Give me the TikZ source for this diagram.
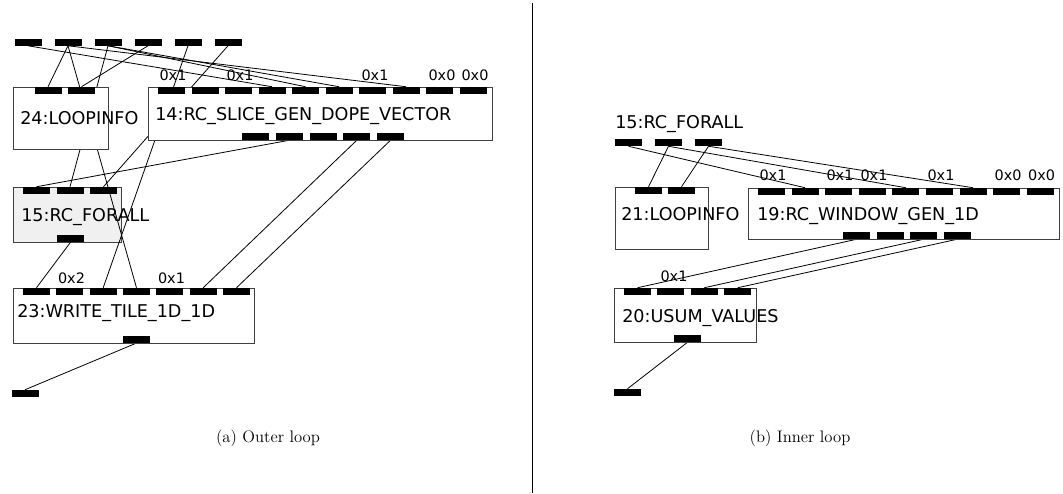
\documentclass[tikz,border=0pt]{standalone}
\usepackage{fontspec}
\newfontfamily\dvsans{DejaVu Sans}

\pgfdeclarelayer{under}
\pgfdeclarelayer{wires}
\pgfsetlayers{under,wires,main}

\tikzset{
	opbox/.style={draw=black!75, fill=white, line width=0.5pt, inner sep=0pt},
	loopbox/.style={opbox, fill=black!6},
	port/.style={fill=black, inner sep=0pt, minimum width=20.25pt, minimum height=5.25pt},
	oplabel/.style={anchor=base west, inner sep=0pt, font=\dvsans\fontsize{13.2}{15}\selectfont},
	constlabel/.style={anchor=base, inner sep=0pt, font=\dvsans\fontsize{10.8}{12}\selectfont},
	caption/.style={anchor=base, inner sep=0pt, font=\fontsize{12.5}{15}\selectfont},
	wire/.style={line width=0.6pt}
}

\begin{document}
\begin{tikzpicture}[x=0.75pt,y=0.75pt,yscale=-1,xscale=1]
	\useasboundingbox (0,0) rectangle (1063,493);

	%%%%%%%%%% (a) outer loop
	% Input ports
	\node [port] (ta1) at (28,42) {};
	\node [port] (ta2) at (68,42) {};
	\node [port] (ta3) at (108,42) {};
	\node [port] (ta4) at (148,42) {};
	\node [port] (ta5) at (188,42) {};
	\node [port] (ta6) at (228,42) {};

	% Box 24
	\node [opbox, minimum width=71.25pt, minimum height=46.5pt] (n24) at (60.5,118) {};
	\node [port] (n24i1) at (48,90.5) {};
	\node [port] (n24i2) at (81.5,90.5) {};
	\node [oplabel] (t24) at (20,124) {24:LOOPINFO};

	% Box 14
	\node [opbox, minimum width=258pt, minimum height=39.75pt] (n14) at (320,113.5) {};
	\node [port] (n14i1) at (171.5,90.5) {};
	\node [port] (n14i2) at (205,90.5) {};
	\node [port] (n14i3) at (238.5,90.5) {};
	\node [port] (n14i4) at (272,90.5) {};
	\node [port] (n14i5) at (305.5,90.5) {};
	\node [port] (n14i6) at (339,90.5) {};
	\node [port] (n14i7) at (372.5,90.5) {};
	\node [port] (n14i8) at (406,90.5) {};
	\node [port] (n14i9) at (439.5,90.5) {};
	\node [port] (n14i10) at (473,90.5) {};
	\node [port] (n14o1) at (255.5,136.5) {};
	\node [port] (n14o2) at (289.25,136.5) {};
	\node [port] (n14o3) at (323,136.5) {};
	\node [port] (n14o4) at (356.75,136.5) {};
	\node [port] (n14o5) at (390.5,136.5) {};
	\node [oplabel] (t14) at (155,120) {14:RC\_SLICE\_GEN\_DOPE\_VECTOR};
	\node [constlabel] (c14a) at (173,80) {0x1};
	\node [constlabel] (c14b) at (240,80) {0x1};
	\node [constlabel] (c14c) at (375,80) {0x1};
	\node [constlabel] (c14d) at (442,80) {0x0};
	\node [constlabel] (c14e) at (475,80) {0x0};

	% Box 15
	\begin{pgfonlayer}{under}
	\node [loopbox, minimum width=81pt, minimum height=41.25pt] (n15) at (67,214.5) {};
	\end{pgfonlayer}
	\node [port] (n15i1) at (36.5,190.5) {};
	\node [port] (n15i2) at (70,190.5) {};
	\node [port] (n15i3) at (103.5,190.5) {};
	\node [port] (n15o) at (70.5,238.5) {};
	\node [oplabel] (t15) at (21,221) {15:RC\_FORALL};

	% Box 23
	\node [opbox, minimum width=180.75pt, minimum height=41.25pt] (n23) at (133.5,315.5) {};
	\node [port] (n23i1) at (36.5,291.5) {};
	\node [port] (n23i2) at (69.8,291.5) {};
	\node [port] (n23i3) at (103.2,291.5) {};
	\node [port] (n23i4) at (136.5,291.5) {};
	\node [port] (n23i5) at (169.8,291.5) {};
	\node [port] (n23i6) at (203.2,291.5) {};
	\node [port] (n23i7) at (236.5,291.5) {};
	\node [port] (n23o) at (136,339.5) {};
	\node [oplabel] (t23) at (17,317) {23:WRITE\_TILE\_1D\_1D};
	\node [constlabel] (c23a) at (71.5,283) {0x2};
	\node [constlabel] (c23b) at (171.5,283) {0x1};

	% Output port
	\node [port] (outa) at (25,393.5) {};

	% Connections
	\begin{pgfonlayer}{wires}
	\draw [wire] (ta1.south) -- (n14i4.north);
	\draw [wire] (ta2.south) -- (n24i1.north);
	\draw [wire] (ta2.south) -- (n23i4.north);
	\draw [wire] (ta2.south) -- (n14i8.north);
	\draw [wire] (ta3.south) -- (n15i2.north);
	\draw [wire] (ta3.south) -- (n14i5.north);
	\draw [wire] (ta3.south) -- (n14i6.north);
	\draw [wire] (ta4.south) -- (n24i2.north);
	\draw [wire] (ta5.south) -- (n23i3.north);
	\draw [wire] (ta6.south) -- (n15i3.north);
	\draw [wire] (n14o2.south) -- (n15i1.north);
	\draw [wire] (n14o4.south) -- (n23i6.north);
	\draw [wire] (n14o5.south) -- (n23i7.north);
	\draw [wire] (n15o.south) -- (n23i1.north);
	\draw [wire] (n23o.south) -- (outa.north);
	\end{pgfonlayer}

	% Caption
	\node [caption] (capa) at (268,442) {(a) Outer loop};

	% Divider
	\coordinate (divtop) at (532,3);
	\coordinate (divbot) at (532,493);
	\draw [line width=0.6pt] (divtop) -- (divbot);

	%%%%%%%%%% (b) inner loop
	% Input ports
	\node [oplabel] (tb) at (615,128) {15:RC\_FORALL};
	\node [port] (tb1) at (628.5,142.5) {};
	\node [port] (tb2) at (668.5,142.5) {};
	\node [port] (tb3) at (708.5,142.5) {};

	% Box 21
	\node [opbox, minimum width=69.75pt, minimum height=46.5pt] (n21) at (661.5,218) {};
	\node [port] (n21i1) at (648.5,190.5) {};
	\node [port] (n21i2) at (681.5,190.5) {};
	\node [oplabel] (t21) at (621,220) {21:LOOPINFO};

	% Box 19
	\node [opbox, minimum width=233.25pt, minimum height=38.25pt] (n19) at (903.5,213.5) {};
	\node [port] (n19i1) at (771.5,191.5) {};
	\node [port] (n19i2) at (805.1,191.5) {};
	\node [port] (n19i3) at (838.7,191.5) {};
	\node [port] (n19i4) at (872.3,191.5) {};
	\node [port] (n19i5) at (905.9,191.5) {};
	\node [port] (n19i6) at (939.5,191.5) {};
	\node [port] (n19i7) at (973.1,191.5) {};
	\node [port] (n19i8) at (1006.7,191.5) {};
	\node [port] (n19i9) at (1040.3,191.5) {};
	\node [port] (n19o1) at (856.5,235.5) {};
	\node [port] (n19o2) at (890,235.5) {};
	\node [port] (n19o3) at (923.5,235.5) {};
	\node [port] (n19o4) at (957,235.5) {};
	\node [oplabel] (t19) at (757,220) {19:RC\_WINDOW\_GEN\_1D};
	\node [constlabel] (c19a) at (773,180) {0x1};
	\node [constlabel] (c19b) at (840,180) {0x1};
	\node [constlabel] (c19c) at (874,180) {0x1};
	\node [constlabel] (c19d) at (941,180) {0x1};
	\node [constlabel] (c19e) at (1008,180) {0x0};
	\node [constlabel] (c19f) at (1041.5,180) {0x0};

	% Box 20
	\node [opbox, minimum width=106.5pt, minimum height=40.5pt] (n20) at (685,315) {};
	\node [port] (n20i1) at (637.5,291.5) {};
	\node [port] (n20i2) at (670.9,291.5) {};
	\node [port] (n20i3) at (704.3,291.5) {};
	\node [port] (n20i4) at (737.7,291.5) {};
	\node [port] (n20o) at (687.5,338.5) {};
	\node [oplabel] (t20) at (622,322) {20:USUM\_VALUES};
	\node [constlabel] (c20a) at (674,281) {0x1};

	% Output port
	\node [port] (outb) at (627.5,392.5) {};

	% Connections
	\begin{pgfonlayer}{wires}
	\draw [wire] (tb1.south) -- (n19i2.north);
	\draw [wire] (tb2.south) -- (n21i1.north);
	\draw [wire] (tb2.south) -- (n19i5.north);
	\draw [wire] (tb3.south) -- (n21i2.north);
	\draw [wire] (tb3.south) -- (n19i7.north);
	\draw [wire] (n19o1.south) -- (n20i1.north);
	\draw [wire] (n19o3.south) -- (n20i3.north);
	\draw [wire] (n19o4.south) -- (n20i4.north);
	\draw [wire] (n20o.south) -- (outb.north);
	\end{pgfonlayer}

	% Caption
	\node [caption] (capb) at (800,442) {(b) Inner loop};

\end{tikzpicture}
\end{document}
